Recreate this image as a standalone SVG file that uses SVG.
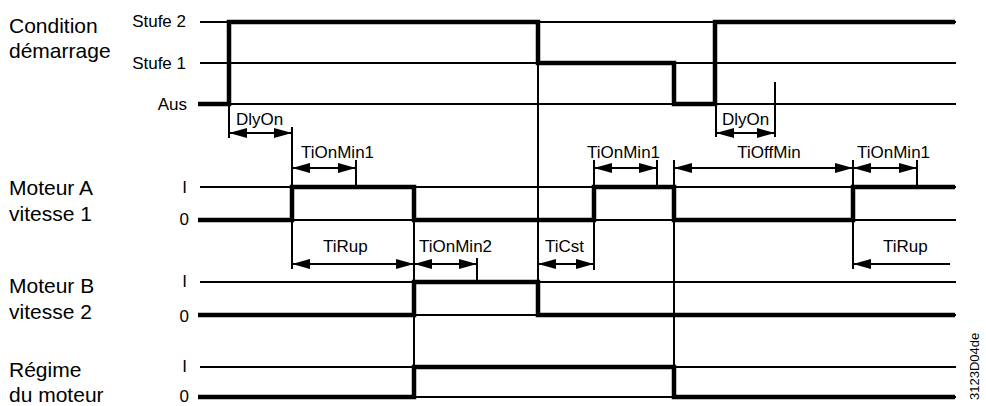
<svg xmlns="http://www.w3.org/2000/svg" width="986" height="406" viewBox="0 0 986 406">
<style>
.lbl{font-family:"Liberation Sans",Arial,sans-serif;font-size:21px;fill:#000}
.sm{font-family:"Liberation Sans",Arial,sans-serif;font-size:17px;fill:#000}
.end{text-anchor:end}
.mid{text-anchor:middle}
.base{stroke:#000;stroke-width:2;fill:none}
.sig{stroke:#000;stroke-width:4.5;fill:none;stroke-linejoin:miter;stroke-linecap:butt}
.tick{stroke:#000;stroke-width:2;fill:none}
.dim{stroke:#000;stroke-width:1.8;fill:none;marker-start:url(#ah);marker-end:url(#ah)}
.dim1{stroke:#000;stroke-width:1.8;fill:none;marker-start:url(#ah)}
</style>
<defs>
<marker id="ah" markerWidth="18" markerHeight="10" refX="18" refY="5" orient="auto-start-reverse" markerUnits="userSpaceOnUse"><path d="M0,0 L18,5 L0,10 z" fill="#000"/></marker>
</defs>
<rect width="986" height="406" fill="#fff"/>

<g id="condition">
<text class="lbl" x="9" y="33">Condition</text>
<text class="lbl" x="9" y="58">démarrage</text>
<text class="sm end" x="186" y="27">Stufe 2</text>
<text class="sm end" x="186" y="69">Stufe 1</text>
<text class="sm end" x="187" y="110">Aus</text>
<path class="base" d="M200,22H956M200,63H956M200,104H956"/>
<path class="sig" d="M198,104H229V22H538V63H674V104H715V22H955"/>
</g>

<g id="moteurA">
<text class="lbl" x="9" y="195">Moteur A</text>
<text class="lbl" x="9" y="221">vitesse 1</text>
<text class="sm end" x="187" y="193">I</text>
<text class="sm end" x="189" y="225">0</text>
<path class="base" d="M200,187H956M200,220H956"/>
<path class="sig" d="M198,220H292V187H414V220H594V187H674V220H853V187H955"/>
</g>

<g id="moteurB">
<text class="lbl" x="9" y="293">Moteur B</text>
<text class="lbl" x="9" y="319">vitesse 2</text>
<text class="sm end" x="187" y="287">I</text>
<text class="sm end" x="189" y="322">0</text>
<path class="base" d="M200,282H956M200,315H956"/>
<path class="sig" d="M198,315H414V282H538V315H955"/>
</g>

<g id="regime">
<text class="lbl" x="9" y="377">Régime</text>
<text class="lbl" x="9" y="402">du moteur</text>
<text class="sm end" x="187" y="372">I</text>
<text class="sm end" x="189" y="402">0</text>
<path class="base" d="M200,367H956M200,397H956"/>
<path class="sig" d="M198,397H414V367H674V397H955"/>
</g>

<g id="connectors">
<path class="tick" d="M229,104V138M292,127V269M356,160V187M414,187V397M477,258V282M538,63V315M594,160V270M657,160V187M674,160V397M716,104V137M775,82V137M853,160V269M917,160V187"/>
<line class="dim" x1="229" y1="133" x2="292" y2="133"/>
<line class="dim" x1="292" y1="168" x2="356" y2="168"/>
<line class="dim" x1="292" y1="264" x2="414" y2="264"/>
<line class="dim" x1="414" y1="264" x2="477" y2="264"/>
<line class="dim" x1="538" y1="264" x2="594" y2="264"/>
<line class="dim" x1="594" y1="168" x2="657" y2="168"/>
<line class="dim" x1="674" y1="168" x2="853" y2="168"/>
<line class="dim" x1="853" y1="168" x2="917" y2="168"/>
<line class="dim" x1="716" y1="133" x2="775" y2="133"/>
<line class="dim1" x1="853" y1="264" x2="950" y2="264"/>
</g>

<g id="labels">
<text class="sm" x="236" y="125">DlyOn</text>
<text class="sm" x="722" y="125">DlyOn</text>
<text class="sm" x="301" y="158">TiOnMin1</text>
<text class="sm" x="587" y="158">TiOnMin1</text>
<text class="sm" x="857" y="158">TiOnMin1</text>
<text class="sm mid" x="769" y="158">TiOffMin</text>
<text class="sm" x="323" y="252">TiRup</text>
<text class="sm" x="419" y="252">TiOnMin2</text>
<text class="sm" x="545" y="252">TiCst</text>
<text class="sm" x="883" y="252">TiRup</text>
<text class="sm" transform="translate(979,400) rotate(-90)" style="font-size:13px">3123D04de</text>
</g>
</svg>
